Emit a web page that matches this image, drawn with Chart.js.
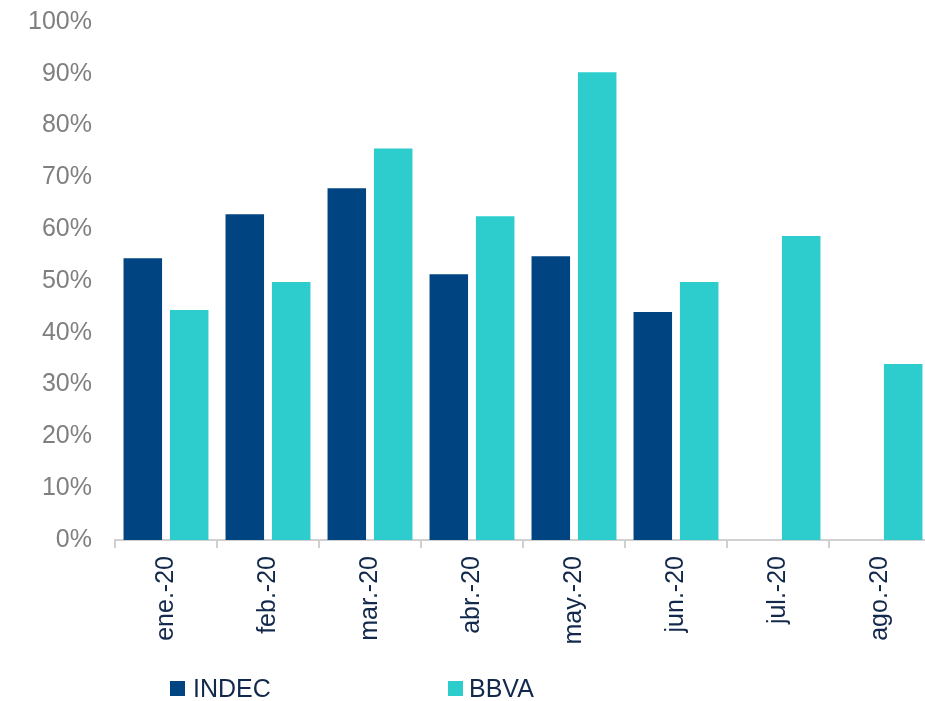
<!DOCTYPE html>
<html>
<head>
<meta charset="utf-8">
<script src="https://cdn.jsdelivr.net/npm/chart.js@4/dist/chart.umd.min.js"></script>
<style>
    body { margin: 0; overflow: hidden; background: #fff; font-family: "Liberation Sans", Arial, sans-serif; }
    #caja { position: relative; width: 935px; height: 701px; }
    .leyenda { position: absolute; top: 676px; font-size: 25px; color: #13294b; line-height: 25px; }
    .cuadro { position: absolute; top: 681px; width: 15px; height: 15px; }
</style>
</head>
<body>
<div id="caja">
    <canvas id="plot1"></canvas>
    <div class="cuadro" style="left:170px; background:#004481"></div>
    <div class="leyenda" style="left:193px">INDEC</div>
    <div class="cuadro" style="left:448px; background:#2dcccd"></div>
    <div class="leyenda" style="left:469px">BBVA</div>
</div>
<script>
const meses = ['ene.-20', 'feb.-20', 'mar.-20', 'abr.-20', 'may.-20', 'jun.-20', 'jul.-20', 'ago.-20'];
const indec = [54.4, 62.9, 67.9, 51.3, 54.8, 44.0, null, null];
const bbva = [44.4, 49.8, 75.6, 62.5, 90.3, 49.8, 58.7, 34.0];

const fuente = "'Liberation Sans', Arial, sans-serif";

let ctx = document.getElementById('plot1').getContext('2d');

let grafica1 = new Chart(ctx, {
    type: 'bar',
    data: {
        labels: meses,
        datasets: [{
            label: 'INDEC',
            data: indec,
            backgroundColor: '#004481',
            barPercentage: 0.83,
            categoryPercentage: 0.91
        }, {
            label: 'BBVA',
            data: bbva,
            backgroundColor: '#2dcccd',
            barPercentage: 0.83,
            categoryPercentage: 0.91
        }]
    },
    options: {
        responsive: true,
        maintainAspectRatio: false,
        animation: false,
        layout: { padding: { top: 22, right: 4, left: 0, bottom: 0 } },
        plugins: {
            legend: { display: false },
            tooltip: { enabled: false }
        },
        scales: {
            x: {
                grid: {
                    display: true,
                    drawOnChartArea: false,
                    offset: true,
                    color: '#d0d0d0',
                    lineWidth: 2,
                    tickLength: 8
                },
                border: { display: true, color: '#d0d0d0', width: 2 },
                ticks: {
                    color: '#13294b',
                    font: { family: fuente, size: 25 },
                    minRotation: 90,
                    maxRotation: 90,
                    padding: 8
                },
                afterFit: (escala) => { escala.height = 161 }
            },
            y: {
                min: 0,
                max: 100,
                grid: { display: false, drawTicks: false },
                border: { display: false },
                ticks: {
                    stepSize: 10,
                    color: '#7f7f7f',
                    padding: 23,
                    font: { family: fuente, size: 25 },
                    callback: (v) => v + '%'
                },
                afterFit: (escala) => {
                    escala.width = 115
                    escala.paddingTop = 0
                    escala.paddingBottom = 0
                }
            }
        }
    }
});
</script>
</body>
</html>
